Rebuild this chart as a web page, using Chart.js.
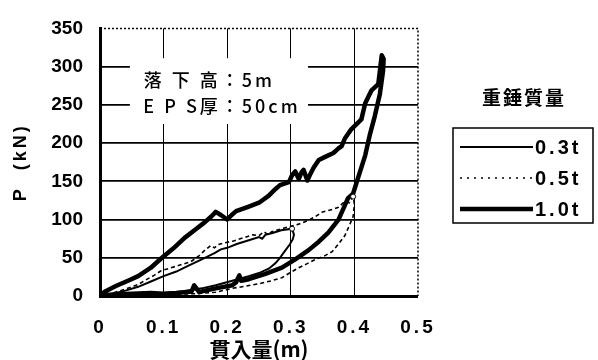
<!DOCTYPE html>
<html>
<head>
<meta charset="utf-8">
<script src="https://cdn.jsdelivr.net/npm/chart.js@4/dist/chart.umd.min.js"></script>
<style>
  html, body { margin: 0; padding: 0; background: #fff; }
  canvas { display: block; }
</style>
</head>
<body>
<canvas id="chart" width="598" height="360"></canvas>
<script>
// Hammer mass series (legend labels)
const massLabels = ['0.3t', '0.5t', '1.0t'];

// Axis ticks
const xTickValues = [0, 0.1, 0.2, 0.3, 0.4, 0.5];
const yTickValues = [0, 50, 100, 150, 200, 250, 300, 350];

// 0.3t : penetration (m) / load (kN)
const pen03 = [0, 0.02, 0.04, 0.06, 0.08, 0.10, 0.12, 0.14, 0.16, 0.18, 0.19, 0.20, 0.215, 0.234, 0.25, 0.255, 0.26, 0.27, 0.285, 0.302,
               0.305, 0.303, 0.298, 0.29, 0.283, 0.276, 0.266, 0.25, 0.234, 0.208, 0.182, 0.16, 0.13, 0.10, 0.07, 0.04, 0];
const load03 = [0, 3, 7, 12, 19, 26, 32, 40, 48, 56, 61, 63, 68, 73, 77, 75, 80, 82, 86, 88,
                80, 74, 67, 58, 50, 43, 36, 30, 26, 20, 14, 10, 6, 4, 2, 1, 0];

// 0.5t
const pen05 = [0, 0.02, 0.04, 0.06, 0.07, 0.085, 0.096, 0.12, 0.143, 0.155, 0.165, 0.174, 0.18, 0.185, 0.193, 0.21, 0.225, 0.24, 0.25, 0.258,
               0.264, 0.27, 0.29, 0.3125, 0.325, 0.339, 0.35, 0.365, 0.375, 0.385, 0.392, 0.398,
               0.40, 0.398, 0.392, 0.385, 0.375, 0.365, 0.352, 0.339, 0.325, 0.3125, 0.30, 0.286, 0.27, 0.25, 0.23, 0.208, 0.182, 0.15, 0.10, 0.05, 0];
const load05 = [0, 4, 9, 15, 20, 27, 33, 39, 45, 52, 60, 66, 63, 67, 69, 72, 76, 80, 79, 84,
                80, 84, 89, 94, 98, 104, 110, 113, 116, 124, 122, 130,
                120, 104, 92, 79, 68, 58, 52, 48, 42, 37, 31, 24, 20, 16, 13, 10, 5, 3, 2, 1, 0];

// 1.0t
const pen10 = [0, 0.008, 0.025, 0.044, 0.06, 0.08, 0.096, 0.115, 0.133, 0.15, 0.164, 0.175, 0.182, 0.19, 0.20, 0.207, 0.214, 0.234, 0.25, 0.265,
               0.276, 0.283, 0.297, 0.302, 0.307, 0.3125, 0.317, 0.32, 0.326, 0.331, 0.336, 0.344, 0.354, 0.367, 0.375, 0.38, 0.385, 0.395, 0.411, 0.417,
               0.427, 0.4375, 0.44, 0.443, 0.446, 0.445, 0.44, 0.432, 0.424, 0.417, 0.409, 0.398, 0.39, 0.375, 0.359, 0.344, 0.328, 0.307, 0.286, 0.26,
               0.234, 0.222, 0.219, 0.214, 0.208, 0.182, 0.165, 0.156, 0.148, 0.144, 0.12, 0.10, 0.08, 0.05, 0.02, 0];
const load10 = [0, 6, 13, 20, 26, 37, 49, 62, 76, 87, 96, 104, 110, 106, 100, 106, 111, 117, 122, 131,
                140, 145, 149, 158, 163, 153, 162, 165, 151, 160, 168, 178, 182, 187, 193, 196, 206, 218, 231, 252,
                269, 277, 294, 315, 310, 294, 264, 235, 210, 184, 163, 134, 128, 100, 83, 71, 60, 48, 37, 29,
                22, 20, 27, 18, 14, 10, 7, 5, 14, 6, 4, 3, 4, 3, 2, 0];

// Annotation lines and legend title
const noteLines = [['落 下 高', '：5m'], ['E P S厚', '：50cm']];
const legendTitle = '重錘質量';

const toPoints = (xs, ys) => xs.map((x, i) => ({ x, y: ys[i] }));
const peakRadius = ys => ctx => (ctx.dataIndex === ys.indexOf(Math.max(...ys)) ? 2.5 : 0);

const BLACK = '#000';
const tickFont = { family: '"Liberation Sans", Arial, sans-serif', size: 19, weight: 'bold' };

// White panel with the test conditions, drawn over the grid
const notePlugin = {
  id: 'noteBox',
  beforeDatasetsDraw(chart, args, opts) {
    const { ctx, scales: { x, y } } = chart;
    const x0 = x.getPixelForValue(opts.box[0]), x1 = x.getPixelForValue(opts.box[1]);
    const y0 = y.getPixelForValue(opts.box[3]), y1 = y.getPixelForValue(opts.box[2]);
    ctx.save();
    ctx.fillStyle = '#fff';
    ctx.fillRect(x0, y0, x1 - x0, y1 - y0);
    ctx.fillStyle = BLACK;
    ctx.font = '500 18px "Noto Sans CJK JP", sans-serif';
    ctx.textBaseline = 'middle';
    ctx.letterSpacing = '3px';
    const colonX = x.getPixelForValue(opts.colonAt);
    noteLines.forEach((parts, i) => {
      const ly = y.getPixelForValue(opts.lineAt[i]);
      ctx.textAlign = 'right';
      ctx.fillText(parts[0], colonX, ly);
      ctx.textAlign = 'left';
      ctx.fillText(parts[1], colonX, ly);
    });
    ctx.restore();
  }
};

// Dotted top and right frame lines
const framePlugin = {
  id: 'dottedFrame',
  beforeDatasetsDraw(chart) {
    const { ctx, chartArea: a } = chart;
    ctx.save();
    ctx.strokeStyle = BLACK;
    ctx.lineWidth = 1.5;
    ctx.setLineDash([2, 2]);
    ctx.beginPath();
    ctx.moveTo(a.left, a.top);
    ctx.lineTo(a.right, a.top);
    ctx.lineTo(a.right, a.bottom);
    ctx.stroke();
    ctx.restore();
  }
};

// Boxed legend with its title above
const legendPlugin = {
  id: 'boxLegend',
  afterDraw(chart, args, opts) {
    const { ctx, chartArea: a } = chart;
    const left = a.right + opts.offsetX, top = opts.top;
    ctx.save();
    ctx.fillStyle = BLACK;
    ctx.textBaseline = 'middle';
    ctx.textAlign = 'center';
    ctx.letterSpacing = '2px';
    ctx.font = 'bold 19px "Noto Sans CJK JP", sans-serif';
    ctx.fillText(legendTitle, left + opts.width / 2 + 1, opts.titleY);
    ctx.strokeStyle = BLACK;
    ctx.lineWidth = 1.5;
    ctx.strokeRect(left, top, opts.width, opts.height);
    ctx.font = 'bold 20px "Liberation Sans", Arial, sans-serif';
    ctx.textAlign = 'left';
    ctx.letterSpacing = '3px';
    chart.data.datasets.forEach((ds, i) => {
      const ry = top + opts.rowStart + i * opts.rowGap;
      ctx.save();
      ctx.lineWidth = ds.borderWidth;
      ctx.setLineDash(ds.legendDash || []);
      ctx.beginPath();
      ctx.moveTo(left + 7, ry);
      ctx.lineTo(left + 7 + opts.lineLen, ry);
      ctx.stroke();
      ctx.restore();
      ctx.fillText(ds.label, left + 9 + opts.lineLen, ry + 1);
    });
    ctx.restore();
  }
};

// Letter-spaced x tick labels and y title
const spacingPlugin = {
  id: 'spacedText',
  afterUpdate(chart) {
    const sx = chart.scales.x, sy = chart.scales.y;
    if (!sx._spaced) {
      const orig = sx.drawLabels;
      sx.drawLabels = function (area) { const c = this.ctx; c.save(); c.letterSpacing = '3px'; orig.call(this, area); c.restore(); };
      sx._spaced = true;
    }
    if (!sy._spaced) {
      const orig = sy.drawTitle;
      sy.drawTitle = function () { const c = this.ctx; c.save(); c.letterSpacing = '3px'; orig.call(this); c.restore(); };
      sy._spaced = true;
    }
  }
};

new Chart(document.getElementById('chart'), {
  type: 'scatter',
  data: {
    datasets: [
      { label: massLabels[0], data: toPoints(pen03, load03), showLine: true, borderColor: BLACK, borderWidth: 2,
        pointRadius: peakRadius(load03), pointBorderColor: BLACK, pointBackgroundColor: '#fff', pointBorderWidth: 1, tension: 0 },
      { label: massLabels[1], data: toPoints(pen05, load05), showLine: true, borderColor: BLACK, borderWidth: 1.6, borderDash: [4, 3], legendDash: [2, 5],
        pointRadius: peakRadius(load05), pointBorderColor: BLACK, pointBackgroundColor: '#fff', pointBorderWidth: 1, tension: 0 },
      { label: massLabels[2], data: toPoints(pen10, load10), showLine: true, borderColor: BLACK, borderWidth: 4.5,
        pointRadius: 0, tension: 0, borderJoinStyle: 'round', borderCapStyle: 'round' }
    ]
  },
  options: {
    responsive: false,
    animation: false,
    layout: { padding: { top: 19, right: 180, left: 0, bottom: 0 } },
    plugins: {
      legend: { display: false },
      tooltip: { enabled: false },
      noteBox: { box: [0.047, 0.327, 225, 311], colonAt: 0.19, lineAt: [282, 248] },
      boxLegend: { offsetX: 35, top: 128, width: 140, height: 95, titleY: 98, rowStart: 19, rowGap: 31, lineLen: 73 }
    },
    scales: {
      x: {
        type: 'linear', min: 0, max: 0.5,
        afterBuildTicks: s => { s.ticks = xTickValues.map(v => ({ value: v })); },
        afterFit: s => { s.height = 64; },
        ticks: { color: BLACK, font: tickFont, padding: 20, maxRotation: 0, autoSkip: false,
                 callback: v => (v === 0 ? '0' : v.toFixed(1)) },
        grid: { color: BLACK, drawTicks: false, lineWidth: c => (c.tick && (c.tick.value === 0.5 || c.tick.value === 0) ? 0 : 1) },
        border: { color: BLACK, width: 3 },
        title: { display: true, text: '貫入量(m)', color: BLACK,
                 font: { family: '"Noto Sans CJK JP", sans-serif', size: 21, weight: 'bold', lineHeight: 1 },
                 padding: { top: 0, bottom: 0 } }
      },
      y: {
        type: 'linear', min: 0, max: 350,
        afterBuildTicks: s => { s.ticks = yTickValues.map(v => ({ value: v })); },
        afterFit: s => { s.width = 100; },
        ticks: { color: BLACK, font: tickFont, padding: 17 },
        grid: { color: BLACK, drawTicks: false, lineWidth: c => (c.tick && (c.tick.value === 350 || c.tick.value === 0) ? 0 : 1.8) },
        border: { color: BLACK, width: 3 },
        title: { display: true, text: 'P  (kN)', color: BLACK,
                 font: { family: '"Liberation Sans", Arial, sans-serif', size: 18, weight: 'bold' },
                 padding: { top: 10, bottom: 0 } }
      }
    }
  },
  plugins: [spacingPlugin, notePlugin, framePlugin, legendPlugin]
});
</script>
</body>
</html>
